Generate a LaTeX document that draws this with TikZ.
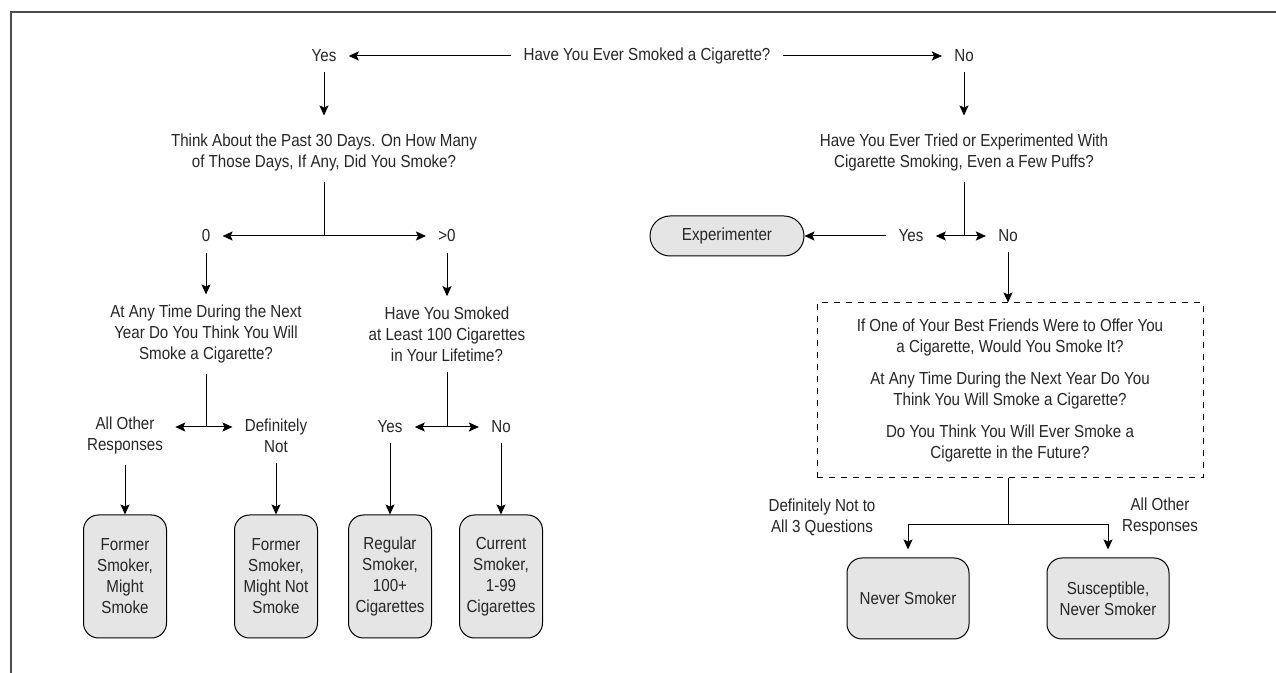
\documentclass[tikz,border=0pt]{standalone}
\usepackage{fontspec}
\setmainfont{Liberation Sans}[FakeStretch=0.87]
\usetikzlibrary{arrows.meta}

\tikzset{
  lbl/.style={inner xsep=6pt, inner ysep=5pt, align=center, text=black!85},
  qtext/.style={inner xsep=6pt, inner ysep=5pt, align=center, text=black!85},
  outcome/.style={draw, rounded corners=7.5pt, fill=black!10, align=center, inner sep=2pt, line width=0.5pt, text=black!85},
  dashbox/.style={draw, dash pattern=on 3pt off 3pt, line width=0.5pt, align=center, text=black!85},
  arr/.style={-{Stealth[length=5pt,width=4.5pt,inset=1pt]}, line width=0.5pt},
}

\begin{document}
\begin{tikzpicture}[x=0.5pt,y=-0.5pt,font=\fontsize{8.7}{10.5}\selectfont]
\useasboundingbox (0,0) rectangle (1276,673);
\draw[black!70,line width=1pt] (11,673) -- (11,12) -- (1276,12);

\node[qtext] (qEver) at (647,56) {Have You Ever Smoked a Cigarette?};
\node[lbl] (yesEver) at (324,56) {Yes};
\node[lbl] (noEver) at (964,56) {No};
\draw[arr] (qEver) -- (yesEver);
\draw[arr] (qEver) -- (noEver);

\node[qtext] (qDays) at (324,152.5) {Think About the Past 30 Days. On How Many\\of Those Days, If Any, Did You Smoke?};
\draw[arr,shorten >=4pt] (yesEver) -- (qDays);
\coordinate (sDays) at (324,236);
\draw[line width=0.5pt] (qDays) -- (sDays);
\node[lbl] (zero) at (206,236) {0};
\node[lbl] (some) at (447,236) {>0};
\draw[arr] (sDays) -- (zero);
\draw[arr] (sDays) -- (some);

\node[qtext] (qYear) at (206,334) {At Any Time During the Next\\Year Do You Think You Will\\Smoke a Cigarette?};
\node[qtext] (qLife) at (447,334) {Have You Smoked\\at Least 100 Cigarettes\\in Your Lifetime?};
\draw[arr] (zero) -- (qYear);
\draw[arr] (some) -- (qLife);

\coordinate (sYear) at (206,427);
\draw[line width=0.5pt] (qYear) -- (sYear);
\node[lbl] (otherYear) at (125,436) {All Other\\Responses};
\node[lbl] (notYear) at (276,436) {Definitely\\Not};
\draw[arr] (sYear) -- (sYear -| otherYear.east);
\draw[arr] (sYear) -- (sYear -| notYear.west);

\coordinate (sLife) at (447,427);
\draw[line width=0.5pt] (qLife) -- (sLife);
\node[lbl] (yesLife) at (390,427) {Yes};
\node[lbl] (noLife) at (501,427) {No};
\draw[arr] (sLife) -- (yesLife);
\draw[arr] (sLife) -- (noLife);

\node[outcome, minimum width=41.5pt, minimum height=61.5pt] (fMight) at (125,576.5) {Former\\Smoker,\\Might\\Smoke};
\node[outcome, minimum width=41.5pt, minimum height=61.5pt] (fNot) at (276,576.5) {Former\\Smoker,\\Might Not\\Smoke};
\node[outcome, minimum width=41.5pt, minimum height=61.5pt] (regular) at (390,576.5) {Regular\\Smoker,\\100+\\Cigarettes};
\node[outcome, minimum width=41.5pt, minimum height=61.5pt] (current) at (501,576.5) {Current\\Smoker,\\1-99\\Cigarettes};
\draw[arr] (otherYear) -- (fMight);
\draw[arr] (notYear) -- (fNot);
\draw[arr] (yesLife) -- (regular);
\draw[arr] (noLife) -- (current);

\node[qtext] (qTried) at (964,152.5) {Have You Ever Tried or Experimented With\\Cigarette Smoking, Even a Few Puffs?};
\draw[arr,shorten >=4pt] (noEver) -- (qTried);
\coordinate (sTried) at (964,236);
\draw[line width=0.5pt] (qTried) -- (sTried);
\node[lbl] (yesTried) at (911,236) {Yes};
\node[lbl] (noTried) at (1008,236) {No};
\draw[arr] (sTried) -- (yesTried);
\draw[arr] (sTried) -- (noTried);
\node[outcome, rounded corners=10pt, minimum width=77pt, minimum height=20pt] (exper) at (727,236) {Experimenter};
\draw[arr] (yesTried) -- (exper);

\node[dashbox, minimum width=193pt, minimum height=87.5pt] (qFuture) at (1010,390.5) {If One of Your Best Friends Were to Offer You\\a Cigarette, Would You Smoke It?\\[5.5pt]At Any Time During the Next Year Do You\\Think You Will Smoke a Cigarette?\\[5.5pt]Do You Think You Will Ever Smoke a\\Cigarette in the Future?};
\draw[arr] (noTried) -- (noTried |- qFuture.north);

\coordinate (sFuture) at (1008,525);
\draw[line width=0.5pt] (qFuture.south -| sFuture) -- (sFuture);
\node[outcome, minimum width=61pt, minimum height=40.5pt] (neverSm) at (908,598.5) {Never Smoker};
\node[outcome, minimum width=61pt, minimum height=40.5pt] (suscep) at (1108,598.5) {Susceptible,\\Never Smoker};
\draw[arr,shorten >=4pt] (sFuture) -| (neverSm);
\draw[arr,shorten >=4pt] (sFuture) -| (suscep);
\node[lbl] (notAll) at (822,517) {Definitely Not to\\All 3 Questions};
\node[lbl] (otherAll) at (1160,517) {All Other\\Responses};

\end{tikzpicture}
\end{document}
